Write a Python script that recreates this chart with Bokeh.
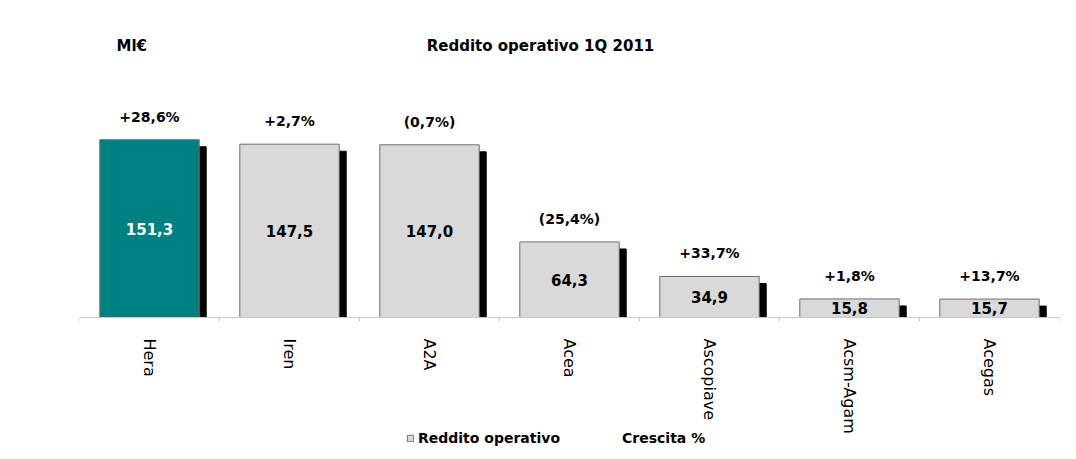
from bokeh.plotting import figure
from bokeh.models import (ColumnDataSource, LabelSet, Label, Legend, LegendItem,
                          FixedTicker, Range1d)
from bokeh.core.properties import value
from bokeh.embed import file_html
from bokeh.resources import INLINE

# ---- data ----
companies = ["Hera", "Iren", "A2A", "Acea", "Ascopiave", "Acsm-Agam", "Acegas"]
reddito = [151.3, 147.5, 147.0, 64.3, 34.9, 15.8, 15.7]
crescita = [28.6, 2.7, -0.7, -25.4, 33.7, 1.8, 13.7]
highlight = "Hera"
title_text = "Reddito operativo 1Q 2011"
unit_text = "Ml€"


def fmt_val(v):
    return f"{v:.1f}".replace(".", ",")


def fmt_pct(v):
    s = f"{abs(v):.1f}".replace(".", ",")
    return f"+{s}%" if v >= 0 else f"({s}%)"


x = [i + 0.5 for i in range(len(companies))]
src = ColumnDataSource(dict(
    x=x,
    top=reddito,
    mid=[v / 2 for v in reddito],
    sx=[xi + 0.05 for xi in x],
    stop=[v - 6 for v in reddito],
    fill=["#008080" if c == highlight else "#D9D9D9" for c in companies],
    tcol=["white" if c == highlight else "black" for c in companies],
    val=[fmt_val(v) for v in reddito],
    pct=[fmt_pct(v) for v in crescita],
))

p = figure(width=1067, height=450, x_range=Range1d(0, len(companies)),
           y_range=Range1d(-113.2, 269.8), output_backend="svg", toolbar_location=None,
           y_axis_location=None, min_border_left=79, min_border_right=8,
           min_border_top=0, min_border_bottom=0)
p.xgrid.visible = False
p.ygrid.visible = False
p.outline_line_color = None
p.background_fill_color = "white"
p.border_fill_color = "white"

# shadows
p.vbar(x="sx", top="stop", bottom=0, width=0.71, source=src,
       fill_color="black", line_color="black")
# bars
bars = p.vbar(x="x", top="top", bottom=0, width=0.71, source=src,
              fill_color="fill", line_color="#6E6E6E", line_width=1)
dummy = p.line(x=[], y=[], line_alpha=0)

# value labels
p.add_layout(LabelSet(x="x", y="mid", text="val", source=src, text_color="tcol",
                      text_align="center", text_baseline="middle",
                      text_font=value("DejaVu Sans"), text_font_style="bold",
                      text_font_size=value("15px")))
# growth labels
p.add_layout(LabelSet(x="x", y="top", text="pct", source=src, y_offset=23,
                      text_align="center", text_baseline="middle",
                      text_font=value("DejaVu Sans"), text_font_style="bold",
                      text_font_size=value("14px"), text_color="black"))

# title & unit
p.add_layout(Label(x=461, y=405, x_units="screen", y_units="screen", text=title_text,
                   text_align="center", text_baseline="middle",
                   text_font="DejaVu Sans", text_font_style="bold",
                   text_font_size="15px", text_color="black"))
p.add_layout(Label(x=37, y=405, x_units="screen", y_units="screen", text=unit_text,
                   text_align="left", text_baseline="middle",
                   text_font="DejaVu Sans", text_font_style="bold",
                   text_font_size="15px", text_color="black"))

# axis (drawn at y = 0 inside the frame)
ax = p.xaxis[0]
ax.fixed_location = 0
ax.ticker = FixedTicker(ticks=x, minor_ticks=list(range(len(companies) + 1)))
ax.major_label_overrides = {xi: c for xi, c in zip(x, companies)}
ax.major_label_orientation = "vertical"
ax.major_tick_out = 0
ax.major_tick_in = 0
ax.minor_tick_out = 4
ax.minor_tick_in = 0
ax.axis_line_color = "#C8C8C8"
ax.minor_tick_line_color = "#C8C8C8"
ax.major_label_text_font = "DejaVu Sans"
ax.major_label_text_font_size = "16px"
ax.major_label_text_color = "black"
ax.major_label_standoff = 17

# legend
legend = Legend(items=[LegendItem(label="Reddito operativo", renderers=[bars], index=1),
                       LegendItem(label="Crescita %", renderers=[dummy])],
                orientation="horizontal", location=(327, 4),
                label_text_font="DejaVu Sans", label_text_font_style="bold",
                label_text_font_size="14px", label_text_color="black",
                glyph_width=8, glyph_height=8,
                label_standoff=4, spacing=50, padding=0, margin=0,
                border_line_alpha=0, background_fill_alpha=0)
p.add_layout(legend)

open("out.html", "w").write(file_html(p, INLINE))
